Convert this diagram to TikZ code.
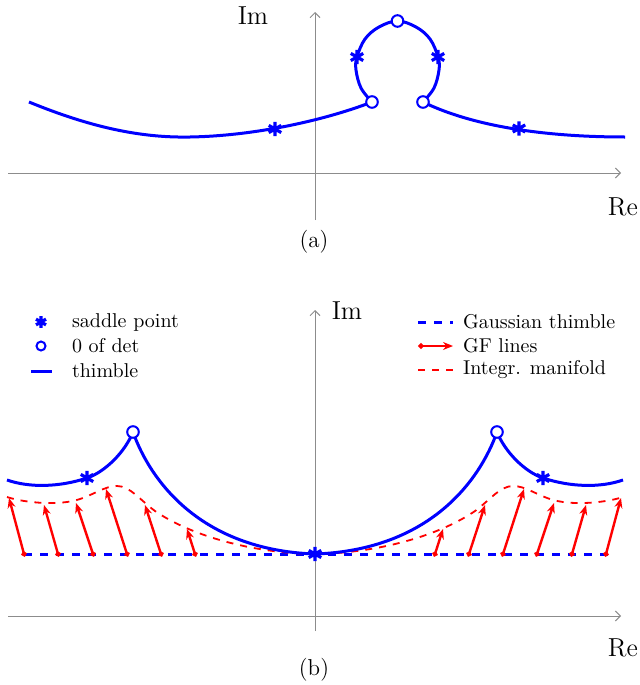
\documentclass[tikz,border=0pt]{standalone}
\usetikzlibrary{arrows.meta,positioning}

\begin{document}
\begin{tikzpicture}[
    x=0.5pt, y=-0.5pt,
    axis/.style={draw=black!45, line width=0.5pt, -{Straight Barb[length=2.5pt,width=5pt]}},
    thimble/.style={draw=blue, line width=1.5pt},
    gauss/.style={draw=blue, line width=1.5pt, dash pattern=on 4pt off 4pt},
    manifold/.style={draw=red, line width=0.9pt, dash pattern=on 3.5pt off 3.5pt},
    gf/.style={draw=red, line width=1.2pt, shorten <=-1.3pt, {Circle[length=2.6pt]}-{Stealth[length=5pt,width=4pt]}},
    zero/.style={circle, draw=blue, fill=white, line width=1pt, minimum size=5.8pt, inner sep=0pt},
    saddle/.pic={\draw[blue, line width=1.6pt] (0,-3.6pt) -- (0,3.6pt) (-30:3.6pt) -- (150:3.6pt) (30:3.6pt) -- (210:3.6pt);},
    lab/.style={font=\fontsize{13}{15}\selectfont},
    panelcap/.style={font=\fontsize{11.5}{14}\selectfont},
    leg/.style={anchor=west},
]
    \useasboundingbox (0,0) rectangle (639,685);

    % (a)
    \draw[axis] (8,173) -- (621,173);
    \draw[axis] (315,220) -- (315,12);
    \node[lab] (imA) at (253,16) {Im};
    \node[lab] (reA) at (623,207) {Re};
    \node[panelcap] (capA) at (314,242) {(a)};

    \draw[thimble] (29,102) .. controls (90,127) and (140,138) .. (190,137)
        .. controls (250,136) and (320,122) .. (372,102);
    \draw[thimble] plot[smooth, tension=0.6] coordinates {(372,102) (361,88) (356,70) (357,57) (365,39) (379,27) (397.5,21) (416,27) (430,39) (438,57) (439,70) (434,88) (423,102)};
    \draw[thimble] (423,102) .. controls (470,125) and (540,137) .. (625,137);

    \node[zero] (zA1) at (372,102) {};
    \node[zero] (zA2) at (397.5,21) {};
    \node[zero] (zA3) at (423,102) {};
    \foreach \p in {(275,129), (357,57), (438,57), (519,128.5)}
        \pic at \p {saddle};

    % (b)
    \draw[axis] (8,616) -- (621,616);
    \draw[axis] (315,631) -- (315,310);
    \node[lab] (imB) at (347,311) {Im};
    \node[lab] (reB) at (623,648) {Re};
    \node[panelcap] (capB) at (314,670) {(b)};

    \draw[gauss] (24,554) -- (608,554);
    \foreach \bx/\tx/\ty in {24/9/498, 58/44/505, 93/76/503, 127/106/489, 161/145/505, 195/187/529} {
        \draw[gf] (\bx,554) -- (\tx,\ty);
        \draw[gf] ({630-\bx},554) -- ({630-\tx},\ty);
    }
    \draw[manifold] (7,497) .. controls (25,503) and (60,506) .. (80,499)
        .. controls (95,494) and (105,486) .. (117,486)
        .. controls (130,486) and (140,500) .. (155,511)
        .. controls (190,535) and (250,553) .. (315,554)
        .. controls (380,553) and (440,535) .. (475,511)
        .. controls (490,500) and (500,486) .. (513,486)
        .. controls (525,486) and (535,494) .. (550,499)
        .. controls (570,506) and (605,503) .. (623,497);

    \draw[thimble] (7,480) .. controls (30,488) and (60,487) .. (87,478)
        .. controls (105,472) and (125,452) .. (133,432);
    \draw[thimble] (133,432) .. controls (150,480) and (200,550) .. (315,554)
        .. controls (430,550) and (480,480) .. (497,432);
    \draw[thimble] (497,432) .. controls (505,452) and (525,472) .. (543,478)
        .. controls (570,487) and (600,488) .. (623,480);

    \node[zero] (zB1) at (133,432) {};
    \node[zero] (zB2) at (497,432) {};
    \foreach \p in {(87,478), (315,554), (543,478)}
        \pic at \p {saddle};

    % legend
    \pic[scale=0.8] at (41,322) {saddle};
    \node[zero, minimum size=4.5pt] (legZero) at (41,346) {};
    \draw[thimble] (31,371) -- (52,371);
    \node[leg] (legSaddle) at (65,322) {saddle point};
    \node[leg] (legDet) at (65,346) {0 of det};
    \node[leg] (legThimble) at (65,371) {thimble};

    \draw[gauss] (418,322) -- (453,322);
    \draw[gf] (421,346) -- (453,346);
    \draw[manifold] (418,370) -- (453,370);
    \node[leg] (legGauss) at (456,322) {Gaussian thimble};
    \node[leg] (legGF) at (456,346) {GF lines};
    \node[leg] (legMan) at (456,370) {Integr. manifold};
\end{tikzpicture}
\end{document}
